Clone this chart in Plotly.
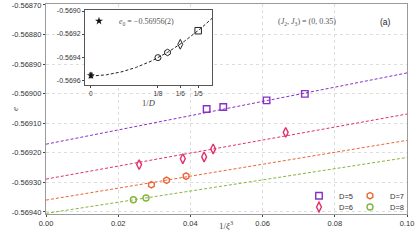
import numpy as np
import plotly.graph_objects as go

# ---------------- data ----------------
series_names = ["D=5", "D=6", "D=7", "D=8"]
d5_x = [0.0445, 0.0491, 0.0611, 0.0717]
d5_e = [-0.569052, -0.569045, -0.569023, -0.569001]
d6_x = [0.0258, 0.0379, 0.0438, 0.0463, 0.0664]
d6_e = [-0.569240, -0.569220, -0.569214, -0.569187, -0.569131]
d7_x = [0.0292, 0.0334, 0.0388]
d7_e = [-0.569308, -0.569293, -0.569279]
d8_x = [0.0242, 0.0277]
d8_e = [-0.569359, -0.569353]

# linear extrapolations e(1/xi^3) = intercept + slope * (1/xi^3)
fit_intercepts = [-0.569171, -0.569289, -0.569360, -0.569405]
fit_slopes = [0.00241, 0.00220, 0.00202, 0.00189]

# inset: extrapolated energies versus 1/D
inv_D = [1 / 5, 1 / 6, 1 / 7, 1 / 8]
e0_value = -0.56956
e0_error = 0.00002
inset_fit_coef = [-0.569565, 0.0001, 0.009375]  # c0 + c1 x + c2 x^2

x_ticks = [0.0, 0.02, 0.04, 0.06, 0.08, 0.10]
x_ticktext = ["0.00", "0.02", "0.04", "0.06", "0.08", "0.10"]
y_ticks = [-0.5687, -0.5688, -0.5689, -0.5690, -0.5691, -0.5692, -0.5693, -0.5694]
y_ticktext = ["-0.56870", "-0.56880", "-0.56890", "-0.56900",
              "-0.56910", "-0.56920", "-0.56930", "-0.56940"]
inset_x_ticks = [0, 1 / 8, 1 / 6, 1 / 5]
inset_x_ticktext = ["0", "1/8", "1/6", "1/5"]
inset_y_ticks = [-0.5690, -0.5692, -0.5694, -0.5696]
inset_y_ticktext = ["-0.5690", "-0.5692", "-0.5694", "-0.5696"]

# ---------------- style ----------------
colors = ["#8A2FC6", "#E2306A", "#EC6435", "#86B43A"]
symbols = ["square-open", "diamond-tall-open", "hexagon-open", "circle-open"]
sizes = [6.5, 7, 6.5, 6]
SANS = "Liberation Sans, Arial, sans-serif"
SERIF = "Liberation Serif, DejaVu Serif, serif"

W, H = 415, 242
ML, MR, MT, MB = 46, 8, 4, 28
pw, ph = W - ML - MR, H - MT - MB


def px2paper_x(px):
    return (px - ML) / pw


def px2paper_y(py):
    return (H - MB - py) / ph


fig = go.Figure()

xs_all = [d5_x, d6_x, d7_x, d8_x]
es_all = [d5_e, d6_e, d7_e, d8_e]
line_x = np.array([0.0, 0.10])
for i in range(4):
    fig.add_trace(go.Scatter(
        x=line_x, y=fit_intercepts[i] + fit_slopes[i] * line_x,
        mode="lines", line=dict(color=colors[i], width=1, dash="3px,2px"),
        showlegend=False, hoverinfo="skip", xaxis="x", yaxis="y"))
legend_ids = ["legend", "legend3", "legend2", "legend4"]
for i in range(4):
    fig.add_trace(go.Scatter(
        x=xs_all[i], y=es_all[i], mode="markers", name=series_names[i],
        marker=dict(symbol=symbols[i], size=sizes[i], color=colors[i],
                    line=dict(width=1.4, color=colors[i])),
        legend=legend_ids[i], xaxis="x", yaxis="y"))

# ---------------- inset ----------------
xc = np.linspace(0, 0.23, 120)
yc = inset_fit_coef[0] + inset_fit_coef[1] * xc + inset_fit_coef[2] * xc ** 2
fig.add_trace(go.Scatter(x=xc, y=yc, mode="lines",
                         line=dict(color="#222", width=1, dash="3px,2px"),
                         showlegend=False, hoverinfo="skip", xaxis="x2", yaxis="y2"))
for i in range(4):
    fig.add_trace(go.Scatter(
        x=[inv_D[i]], y=[fit_intercepts[i]], mode="markers", showlegend=False,
        marker=dict(symbol=symbols[i], size=sizes[i], color="#222",
                    line=dict(width=1, color="#222")),
        xaxis="x2", yaxis="y2"))
fig.add_trace(go.Scatter(
    x=[0], y=[e0_value], mode="markers",
    name="<i>e</i><sub>0</sub> = −0.56956(2)",
    marker=dict(symbol="star", size=6, color="#111"),
    error_y=dict(type="data", array=[e0_error], color="#111", thickness=1, width=2),
    legend="legend5", xaxis="x2", yaxis="y2"))

axis_common = dict(showline=True, mirror=True, ticks="outside", ticklen=2,
                   tickfont=dict(family=SANS, size=7.5, color="#333"))

inset_x0, inset_x1 = 85, 212
inset_y0, inset_y1 = 10, 85

leg_common = dict(bgcolor="rgba(0,0,0,0)", borderwidth=0, itemwidth=30,
                  xanchor="left", yanchor="middle", tracegroupgap=0,
                  font=dict(family=SANS, size=7.5, color="#333"))

fig.update_layout(
    width=W, height=H,
    margin=dict(l=ML, r=MR, t=MT, b=MB, autoexpand=False),
    paper_bgcolor="white", plot_bgcolor="white",
    xaxis=dict(domain=[0, 1], range=[0, 0.10], tickvals=x_ticks, ticktext=x_ticktext,
               showgrid=True, gridcolor="#dddddd", griddash="dot", gridwidth=1,
               linecolor="#9a9a9a", linewidth=1.3, zeroline=False, automargin=False,
               **axis_common),
    yaxis=dict(domain=[0, 1], range=[-0.569407, -0.568697], tickvals=y_ticks,
               ticktext=y_ticktext, automargin=False,
               showgrid=True, gridcolor="#dddddd", griddash="dot", gridwidth=1,
               linecolor="#9a9a9a", linewidth=1.3, zeroline=False,
               **axis_common),
    xaxis2=dict(domain=[px2paper_x(inset_x0), px2paper_x(inset_x1)], anchor="y2",
                range=[-0.011, 0.2258], tickvals=inset_x_ticks, ticktext=inset_x_ticktext,
                showgrid=False, zeroline=False, linecolor="#555", linewidth=1,
                title=dict(text="1/<i>D</i>", standoff=4,
                           font=dict(family=SERIF, size=8.5, color="#444")),
                **{**axis_common, "tickfont": dict(family=SANS, size=6.5, color="#333")}),
    yaxis2=dict(domain=[px2paper_y(inset_y1), px2paper_y(inset_y0)], anchor="x2",
                range=[-0.569643, -0.568991], tickvals=inset_y_ticks,
                ticktext=inset_y_ticktext,
                showgrid=False, zeroline=False, linecolor="#555", linewidth=1,
                **{**axis_common, "tickfont": dict(family=SANS, size=7, color="#333")}),
    legend=dict(x=px2paper_x(299), y=px2paper_y(195.7), **leg_common),
    legend3=dict(x=px2paper_x(299), y=px2paper_y(207), **leg_common),
    legend2=dict(x=px2paper_x(350), y=px2paper_y(195.7), **leg_common),
    legend4=dict(x=px2paper_x(350), y=px2paper_y(207), **leg_common),
    legend5=dict(x=px2paper_x(79), y=px2paper_y(21),
                 **{**leg_common, "font": dict(family=SERIF, size=8, color="#555")}),
    annotations=[
        dict(x=px2paper_x(226), y=px2paper_y(233), xref="paper", yref="paper",
             text="1/<i>ξ</i><sup>3</sup>", showarrow=False,
             font=dict(family=SERIF, size=9, color="#444")),
        dict(x=px2paper_x(8), y=px2paper_y(109), xref="paper", yref="paper",
             text="<i>e</i>", showarrow=False, textangle=-90,
             font=dict(family=SERIF, size=9, color="#444")),
        dict(x=px2paper_x(338), y=px2paper_y(15), xref="paper", yref="paper",
             text="(<i>J</i><sub>2</sub>, <i>J</i><sub>3</sub>) = (0, 0.35)",
             showarrow=False, font=dict(family=SERIF, size=8, color="#555")),
        dict(x=px2paper_x(393), y=px2paper_y(15), xref="paper", yref="paper",
             text="(a)", showarrow=False,
             font=dict(family=SANS, size=8.5, color="#222")),
    ],
)

fig.write_html("out.html", config={"displayModeBar": False},
               post_script="document.body.style.margin='0';")
